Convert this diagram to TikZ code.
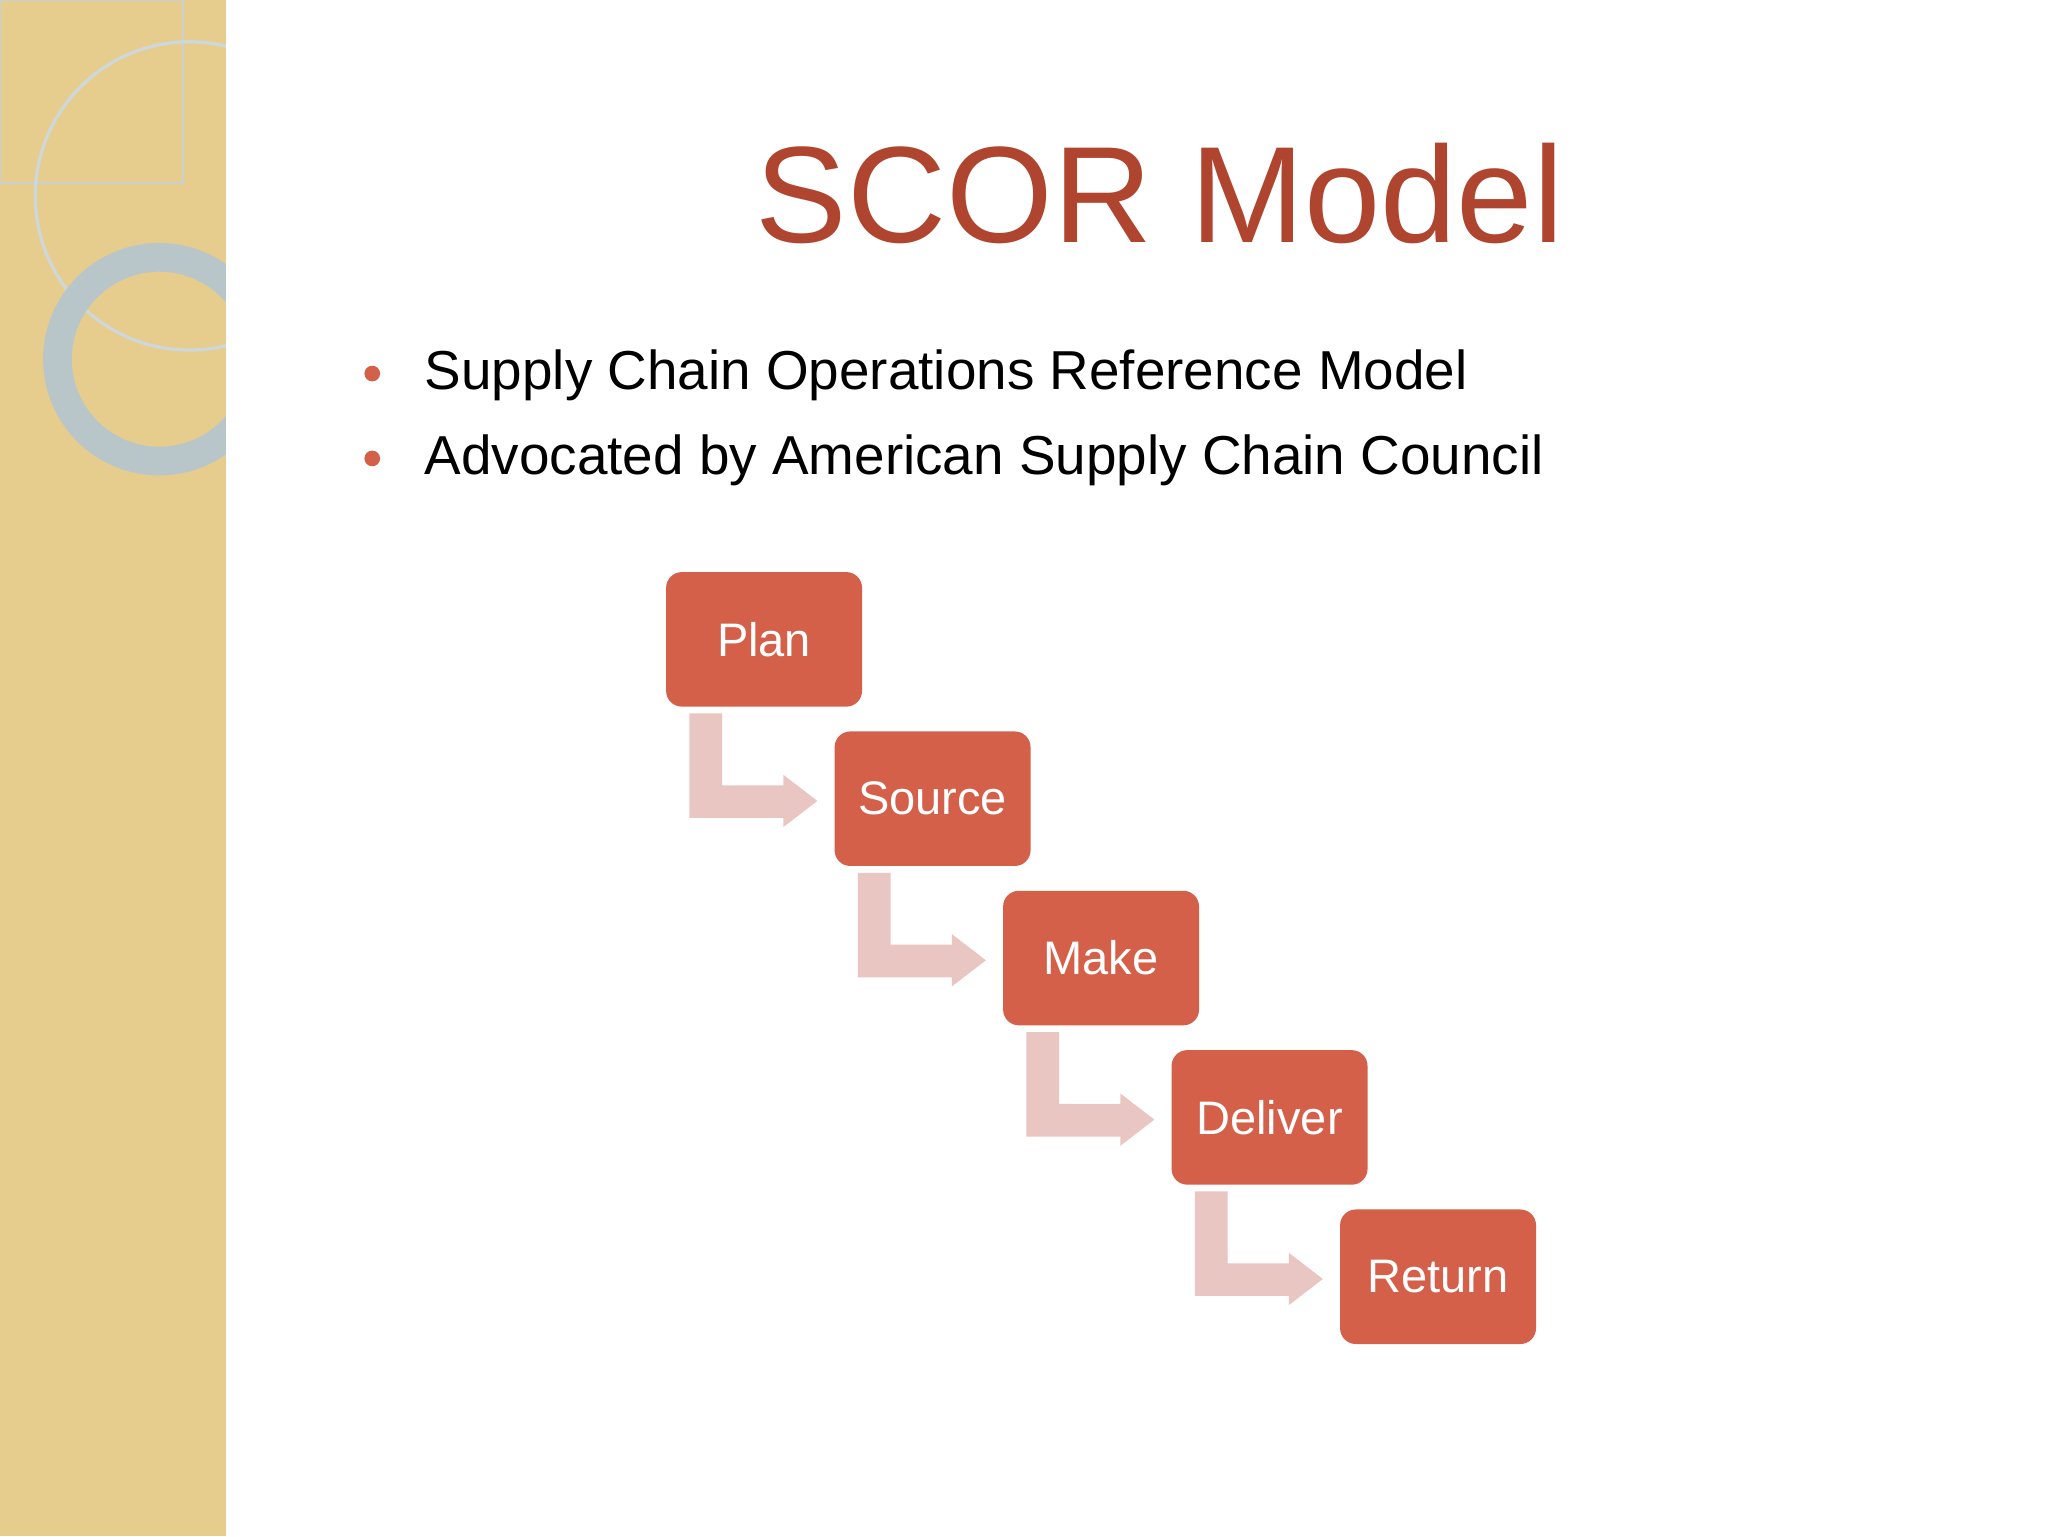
\documentclass[tikz,border=0pt]{standalone}
\usepackage{fontspec}
\setmainfont{Liberation Sans}
\usetikzlibrary{calc}
\definecolor{tan}{HTML}{E6CD8E}
\definecolor{boxc}{HTML}{D4604A}
\definecolor{arr}{HTML}{EAC6C2}
\definecolor{titlec}{HTML}{B0452F}
\definecolor{ring}{HTML}{B9C6C9}
\begin{document}
\begin{tikzpicture}[x=1pt,y=-1pt,
  stepbox/.style={fill=boxc,rounded corners=12pt,minimum width=150pt,minimum height=103pt,text=white,font=\fontsize{36}{40}\selectfont,inner sep=0pt},
  bul/.style={anchor=base west,font=\fontsize{42}{48}\selectfont,inner sep=0pt}]
\useasboundingbox (0,0) rectangle (1568,1176);
\fill[white] (0,0) rectangle (1568,1176);
\fill[tan] (0,0) rectangle (173,1176);
\begin{scope}
\clip (0,0) rectangle (173,1176);
\draw[ring!80!white,line width=1.5pt] (0,0) rectangle (140,140);
\draw[ring!70!white,line width=2.5pt] (145,150) circle (118);
\draw[ring,line width=22pt] (122,275) circle (78);
\end{scope}
\node[text=titlec,font=\fontsize{105}{110}\selectfont,inner sep=0pt] (title) at (888,148) {SCOR Model};
\fill[boxc] (285,286) circle (6) coordinate (d1);
\fill[boxc] (285,351) circle (6) coordinate (d2);
\node[bul] (b1) at (325,298) {Supply Chain Operations Reference Model};
\node[bul] (b2) at (325,363) {Advocated by American Supply Chain Council};
\foreach \n/\t [count=\i from 0] in {p/Plan,s/Source,m/Make,d/Deliver,r/Return}{
  \node[stepbox] (\n) at (585+129*\i,489.5+122*\i) {\t};
}
\foreach \a in {p,s,m,d}{
  \fill[arr] ($(\a.south west)+(18,5)$) -- ++(25,0) -- ++(0,55) -- ++(47,0) -- ++(0,-8)
    -- ++(26,20) -- ++(-26,20) -- ++(0,-7) -- ++(-72,0) -- cycle;
}
\end{tikzpicture}
\end{document}
